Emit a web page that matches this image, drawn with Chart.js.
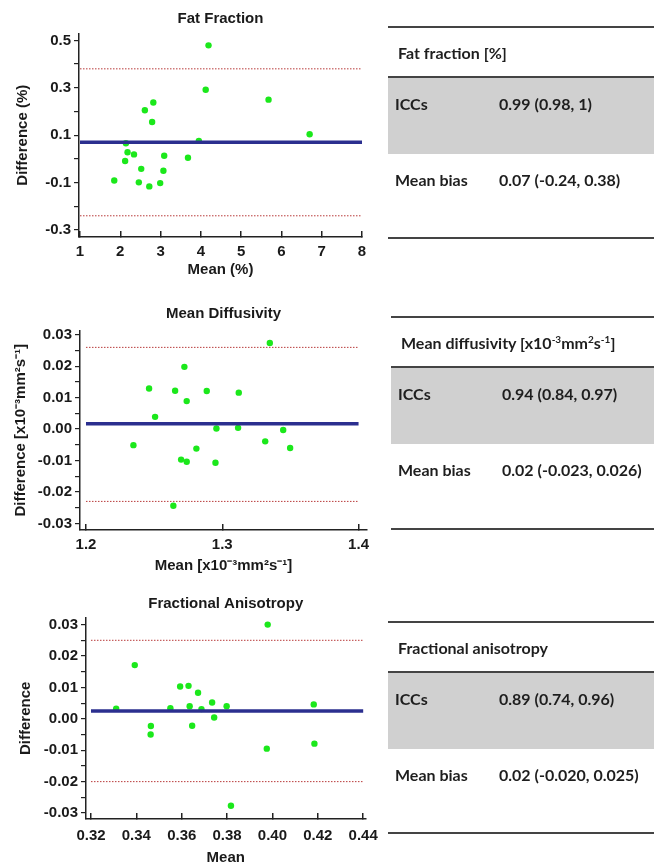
<!DOCTYPE html>
<html>
<head>
<meta charset="utf-8">
<script src="https://cdn.jsdelivr.net/npm/chart.js@4.4.1/dist/chart.umd.min.js"></script>
<style>
  body { margin: 0; background: #fff; width: 654px; height: 864px; position: relative; overflow: hidden; }
  canvas { position: absolute; left: 0; }
  .tbl { position: absolute; width: 266px; border-top: 2px solid #444; border-bottom: 2px solid #444;
         font-family: Lato, 'Open Sans', sans-serif; font-weight: bold; font-size: 16px; color: #1e1e1e; }
  .tbl .hd { height: 48px; line-height: 50px; padding-left: 10px; }
  .tbl .row { position: relative; height: 52px; line-height: 52px; }
  .tbl .gray { background: #d0d0d0; border-top: 2px solid #444; height: 76px; }
  .tbl .lab { position: absolute; left: 7px; }
  .tbl .val { position: absolute; left: 111px; }
  sup { font-size: 10px; line-height: 0; vertical-align: 6px; }
</style>
</head>
<body>
<canvas id="ff" width="392" height="285" style="top:0px"></canvas>
<canvas id="md" width="392" height="290" style="top:295px"></canvas>
<canvas id="fa" width="392" height="279" style="top:585px"></canvas>

<div class="tbl" style="left:388px; top:26px; height:209px;">
  <div class="hd">Fat fraction [%]</div>
  <div class="gray"><div class="row"><span class="lab">ICCs</span><span class="val">0.99 (0.98, 1)</span></div></div>
  <div class="row"><span class="lab">Mean bias</span><span class="val">0.07 (-0.24, 0.38)</span></div>
</div>
<div class="tbl" style="left:391px; top:316px; height:210px;">
  <div class="hd">Mean diffusivity [x10<sup>-3</sup>mm<sup>2</sup>s<sup>-1</sup>]</div>
  <div class="gray"><div class="row"><span class="lab">ICCs</span><span class="val">0.94 (0.84, 0.97)</span></div></div>
  <div class="row"><span class="lab">Mean bias</span><span class="val">0.02 (-0.023, 0.026)</span></div>
</div>
<div class="tbl" style="left:388px; top:621px; height:209px;">
  <div class="hd">Fractional anisotropy</div>
  <div class="gray"><div class="row"><span class="lab">ICCs</span><span class="val">0.89 (0.74, 0.96)</span></div></div>
  <div class="row"><span class="lab">Mean bias</span><span class="val">0.02 (-0.020, 0.025)</span></div>
</div>

<script>
// Fat fraction (%)
const ffMean = [1.85, 2.12, 2.14, 2.18, 2.34, 2.52, 2.46, 2.61, 2.72, 2.79, 2.82, 2.99, 3.07, 3.09, 3.68, 3.95, 4.12, 4.19, 5.68, 6.70];
const ffDiff = [-0.091, -0.009, 0.066, 0.028, 0.019, -0.042, -0.099, 0.205, -0.116, 0.156, 0.238, -0.102, -0.050, 0.013, 0.005, 0.076, 0.292, 0.479, 0.250, 0.104];
const ffBias = 0.07;
const ffLimits = [-0.24, 0.38];
const ffXTicks = [1, 2, 3, 4, 5, 6, 7, 8];
const ffYTicks = [-0.3, -0.1, 0.1, 0.3, 0.5];
const ffYMinor = [-0.2, 0.0, 0.2, 0.4];

// Mean diffusivity
const mdMean = [1.2348, 1.2463, 1.2507, 1.2641, 1.2654, 1.2698, 1.2722, 1.2739, 1.2739, 1.2810, 1.2886, 1.2950, 1.2957, 1.3116, 1.3121, 1.3315, 1.3349, 1.3447, 1.3498];
const mdDiff = [-0.0051, 0.0129, 0.0039, -0.0244, 0.0122, -0.0097, 0.0198, -0.0104, 0.0089, -0.0062, 0.0121, -0.0107, 0.0002, 0.0004, 0.0116, -0.0039, 0.0274, -0.0003, -0.0060];
const mdBias = 0.0017;
const mdLimits = [-0.023, 0.026];
const mdXTicks = [1.2, 1.3, 1.4];
const mdYTicks = [-0.03, -0.02, -0.01, 0.00, 0.01, 0.02, 0.03];
const mdYMinor = [-0.025, -0.015, -0.005, 0.005, 0.015, 0.025];

// Fractional anisotropy
const faMean = [0.3311, 0.3393, 0.3464, 0.3463, 0.3550, 0.3593, 0.3630, 0.3635, 0.3646, 0.3672, 0.3687, 0.3734, 0.3743, 0.3798, 0.3817, 0.3975, 0.3979, 0.4182, 0.4185];
const faDiff = [0.0032, 0.0171, -0.0023, -0.0050, 0.0034, 0.0103, 0.0105, 0.0040, -0.0022, 0.0083, 0.0031, 0.0052, 0.0004, 0.0040, -0.0277, -0.0095, 0.0300, 0.0046, -0.0079];
const faBias = 0.0025;
const faLimits = [-0.020, 0.025];
const faXTicks = [0.32, 0.34, 0.36, 0.38, 0.40, 0.42, 0.44];
const faYTicks = [-0.03, -0.02, -0.01, 0.00, 0.01, 0.02, 0.03];
const faYMinor = [-0.025, -0.015, -0.005, 0.005, 0.015, 0.025];

const ink = '#1a1a1a';
const font15 = { family: "'Liberation Sans', Arial, sans-serif", size: 15, weight: 'bold' };

function hline(x0, x1, y) {
  return [{ x: x0, y: y }, { x: x1, y: y }];
}

function makePlot(id, o) {
  const labelled = o.yTicks;
  new Chart(document.getElementById(id), {
    type: 'scatter',
    data: {
      datasets: [
        { data: hline(o.x0, o.x1, o.bias), showLine: true, borderColor: '#2b2f8f', borderWidth: 3.5, pointRadius: 0 },
        { data: hline(o.x0, o.x1, o.limits[1]), showLine: true, borderColor: '#b83a3a', borderWidth: 1, borderDash: [1.5, 1.5], pointRadius: 0 },
        { data: hline(o.x0, o.x1, o.limits[0]), showLine: true, borderColor: '#b83a3a', borderWidth: 1, borderDash: [1.5, 1.5], pointRadius: 0 },
        { data: o.mean.map((m, i) => ({ x: m, y: o.diff[i] })), backgroundColor: '#1be81b', pointRadius: 3.2, borderWidth: 0 }
      ]
    },
    options: {
      responsive: false,
      animation: false,
      layout: { padding: { left: 0, right: o.padRight, top: 0, bottom: 0 } },
      plugins: {
        legend: { display: false },
        tooltip: { enabled: false },
        title: { display: true, text: o.title, fullSize: false, color: ink, font: font15,
                 padding: { top: o.titleTop, bottom: o.titleBottom } }
      },
      scales: {
        x: {
          type: 'linear', min: o.xMin, max: o.xMax,
          afterBuildTicks: s => { s.ticks = o.xTicks.map(v => ({ value: v })); },
          afterFit: s => { s.height = o.xHeight; },
          ticks: { color: ink, font: font15, padding: o.xTickPad, maxRotation: 0,
                   callback: v => o.xFmt(v) },
          grid: { drawOnChartArea: false, drawTicks: true, tickLength: -6, color: '#222', lineWidth: 1.5 },
          border: { color: '#222', width: 1.5 },
          title: { display: true, text: o.xTitle, color: ink, font: font15, padding: { top: 0, bottom: o.xTitleBottom } }
        },
        y: {
          type: 'linear', min: o.yMin, max: o.yMax,
          afterBuildTicks: s => {
            s.ticks = o.yTicks.concat(o.yMinor).sort((a, b) => a - b).map(v => ({ value: v }));
          },
          afterFit: s => { s.width = o.yWidth; },
          ticks: { color: ink, font: font15, padding: 3, autoSkip: false,
                   callback: v => labelled.some(t => Math.abs(t - v) < 1e-9) ? o.yFmt(v) : '' },
          grid: { drawOnChartArea: false, drawTicks: true, tickLength: 5, color: '#222', lineWidth: 1.2 },
          border: { color: '#222', width: 1.5 },
          title: { display: true, text: o.yTitle, color: ink, font: font15, padding: { top: o.yTitleTop, bottom: 0 } }
        }
      }
    }
  });
}

makePlot('ff', {
  title: 'Fat Fraction', mean: ffMean, diff: ffDiff, bias: ffBias, limits: ffLimits,
  x0: 1, x1: 8, xMin: 0.975, xMax: 8, yMin: -0.3295, yMax: 0.5295,
  xTicks: ffXTicks, yTicks: ffYTicks, yMinor: ffYMinor,
  xFmt: v => String(v), yFmt: v => v.toFixed(1),
  xTitle: 'Mean (%)', yTitle: 'Difference (%)',
  padRight: 30, yWidth: 79, xHeight: 48, titleTop: 10, titleBottom: 5.4,
  xTickPad: 12, xTitleBottom: 6, yTitleTop: 14
});

makePlot('md', {
  title: 'Mean Diffusivity', mean: mdMean, diff: mdDiff, bias: mdBias, limits: mdLimits,
  x0: 1.2, x1: 1.4, xMin: 1.1956, xMax: 1.4062, yMin: -0.0321, yMax: 0.0314,
  xTicks: mdXTicks, yTicks: mdYTicks, yMinor: mdYMinor,
  xFmt: v => v.toFixed(1), yFmt: v => v.toFixed(2),
  xTitle: 'Mean [x10\u207B\u00B3mm\u00B2s\u207B\u00B9]', yTitle: 'Difference [x10\u207B\u00B3mm\u00B2s\u207B\u00B9]',
  padRight: 25, yWidth: 80, xHeight: 55, titleTop: 10, titleBottom: 7.4,
  xTickPad: 12, xTitleBottom: 10, yTitleTop: 11.5
});

makePlot('fa', {
  title: 'Fractional Anisotropy', mean: faMean, diff: faDiff, bias: faBias, limits: faLimits,
  x0: 0.32, x1: 0.44, xMin: 0.3178, xMax: 0.441, yMin: -0.0319, yMax: 0.0322,
  xTicks: faXTicks, yTicks: faYTicks, yMinor: faYMinor,
  xFmt: v => v.toFixed(2), yFmt: v => v.toFixed(2),
  xTitle: 'Mean', yTitle: 'Difference',
  padRight: 10, yWidth: 86, xHeight: 45, titleTop: 10, titleBottom: 4.7,
  xTickPad: 14, xTitleBottom: -3, yTitleTop: 17
});
</script>
</body>
</html>
